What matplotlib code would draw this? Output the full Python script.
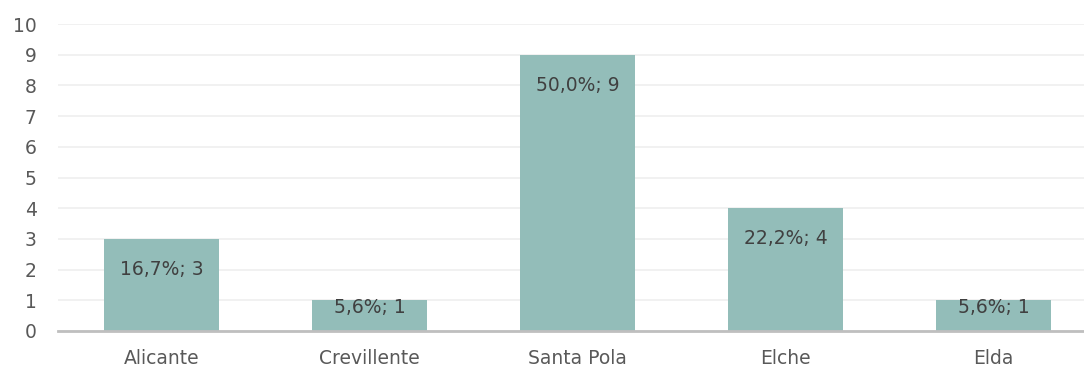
import matplotlib.pyplot as plt
import numpy as np

# municipalities and counts
cities = ["Alicante", "Crevillente", "Santa Pola", "Elche", "Elda"]
counts = [3, 1, 9, 4, 1]
labels = ["16,7%; 3", "5,6%; 1", "50,0%; 9", "22,2%; 4", "5,6%; 1"]

BAR_COLOR = "#93bdb9"
TEXT_COLOR = "#404040"
TICK_COLOR = "#595959"

plt.rcParams["font.family"] = ["DejaVu Sans"]

W, H = 1084, 367
fig = plt.figure(figsize=(W / 100, H / 100), dpi=100)
# axes runs slightly past the right edge, as in the original layout
left, right = 57.5, 1097.5
bottom, top = 331, 24
ax = fig.add_axes([left / W, 1 - bottom / H, (right - left) / W, (bottom - top) / H])

x = np.arange(len(cities))
ax.bar(x, counts, width=0.553, color=BAR_COLOR, zorder=2)

ax.set_xlim(-0.5, len(cities) - 0.5)
ax.set_ylim(0, 10)
ax.set_yticks(range(0, 11))
ax.set_xticks(x)
ax.set_xticklabels(cities)

ax.grid(axis="y", color="#efefef", linewidth=1.2, zorder=0)
ax.set_axisbelow(True)
for side in ["top", "right", "left"]:
    ax.spines[side].set_visible(False)
ax.spines["bottom"].set_color("#bfbfbf")
ax.spines["bottom"].set_linewidth(2)
ax.spines["bottom"].set_zorder(3)

ax.tick_params(axis="both", length=0, labelsize=13.5, labelcolor=TICK_COLOR)
ax.tick_params(axis="y", pad=15)
ax.tick_params(axis="x", pad=13)

# value labels inside the top of each bar
for xi, v, lab in zip(x, counts, labels):
    y = max(v - 1.0, 0.78)
    ax.text(xi, y, lab, ha="center", va="center", fontsize=13.5, color=TEXT_COLOR, zorder=4)

fig.savefig("out.png", dpi=100)
